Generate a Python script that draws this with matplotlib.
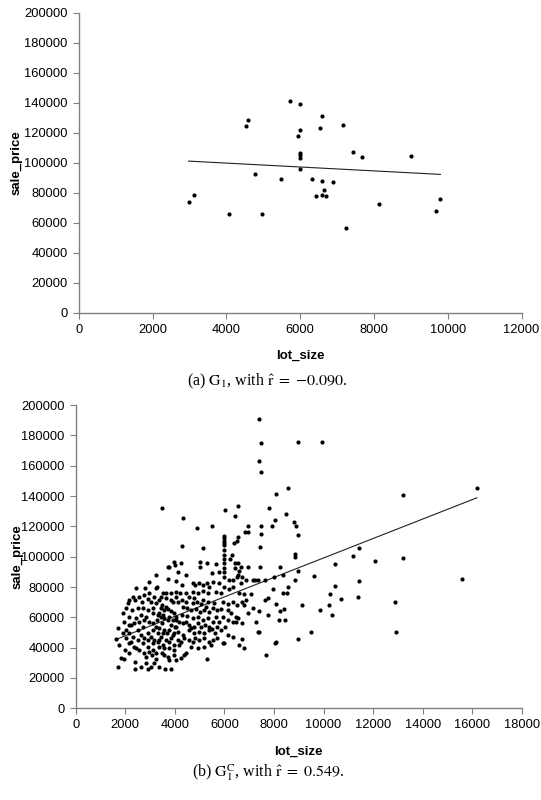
import numpy as np
import matplotlib
matplotlib.use("Agg")
import matplotlib.pyplot as plt

plt.rcParams['font.family'] = ['Liberation Sans', 'DejaVu Sans']
plt.rcParams['mathtext.fontset'] = 'stix'

# (a) G1 : lot_size vs sale_price
g1_lot = [5730, 5990, 6590, 4570, 4540, 7150, 6530, 5990, 5950, 7430,
          7670, 9000, 5990, 5990, 5990, 5990, 4780, 5490, 6330, 6590,
          6880, 6650, 6440, 6590, 6690, 3130, 2970, 8140, 9800, 9670,
          4080, 4970, 7250]
g1_price = [141100, 139300, 131100, 128300, 124700, 125100, 123100, 121800, 118000, 106900,
            104000, 104500, 106300, 104900, 102900, 95800, 92500, 89300, 89300, 88000,
            86900, 81600, 77600, 78700, 77800, 78700, 73600, 72300, 76000, 67800,
            65600, 65600, 56700]
g1_fit = (-1.298, 104990)   # slope, intercept of the drawn trend line

# (b) G1^C : lot_size vs sale_price
gc_lot = [7400, 7490, 8950, 7400, 7490, 8570, 8090, 3490, 7780, 6540,
          6010, 6410, 8490, 4310, 8040, 4880, 5500, 6970, 7470, 7940,
          8820, 8880, 6840, 6970, 7470, 5990, 6560, 8990, 5990, 6490,
          5990, 5990, 6400, 5990, 4290, 5150, 7440, 5990, 8830, 8830,
          6300, 6220, 5990, 5990, 3980, 4020, 3710, 4250, 5010, 5310,
          5680, 6410, 6540, 6670, 3780, 4110, 4470, 5990, 5990, 5990,
          6440, 6600, 6540, 6730, 6970, 7440, 8240, 8990, 3220, 5010,
          5500, 5790, 2970, 3240, 3710, 4040, 4290, 4720, 4820, 4990,
          5120, 5280, 5390, 5520, 5790, 5990, 6190, 6330, 6490, 6680,
          6890, 7140, 7220, 7340, 7650, 8010, 8350, 8560, 8830, 2430,
          2810, 3280, 3530, 3640, 3840, 4040, 4210, 4450, 4720, 4920,
          5120, 5320, 5660, 5860, 5990, 6170, 6330, 6570, 6800, 7070,
          7970, 7740, 7650, 8350, 8510, 2100, 2400, 2670, 2900, 3040,
          3240, 3370, 3480, 3640, 3910, 4110, 4290, 4450, 4720, 4880,
          5050, 5320, 5590, 5930, 6130, 6330, 6490, 6710, 6800, 6880,
          7140, 7400, 8080, 8410, 8240, 1890, 2160, 2430, 2630, 2830,
          3100, 3300, 3440, 3570, 3780, 3910, 4040, 4290, 4510, 4720,
          4920, 5120, 5320, 5520, 5660, 5930, 6130, 6330, 6460, 6530,
          6460, 6970, 6730, 7270, 7740, 8210, 8430, 1690, 2030, 2230,
          2500, 2700, 2900, 3100, 3370, 3530, 3780, 3910, 4110, 4310,
          4580, 4780, 4990, 5190, 5390, 5630, 5860, 6030, 6130, 6330,
          6730, 7340, 7400, 8080, 8050, 8990, 1640, 1760, 2000, 2230,
          2430, 2700, 2900, 3100, 3300, 3530, 3750, 3980, 4180, 4450,
          4650, 4920, 5190, 5460, 5930, 5990, 6600, 6800, 7690, 1830,
          1960, 2400, 2830, 3080, 3240, 3480, 3710, 3980, 4380, 5280,
          1690, 2400, 2900, 3040, 3370, 3610, 3840, 3170, 2830, 3440,
          3570, 3710, 3840, 3980, 4040, 4020, 3980, 3840, 3640, 3440,
          3300, 3240, 3260, 3350, 3530, 3710, 3840, 3570, 3480, 3670,
          3370, 3170, 3040, 2900, 2770, 2630, 2500, 2160, 2300, 2030,
          1890, 3100, 3370, 3570, 3780, 3980, 4110, 4250, 4380, 4560,
          4720, 4820, 4990, 5190, 5360, 5550, 5720, 4040, 4180, 4310,
          4450, 4560, 4650, 4780, 4920, 5050, 5230, 5360, 5500, 5720,
          5790, 4310, 4510, 4650, 4850, 5010, 5190, 5360, 5520, 5720,
          5870, 6130, 6260, 5120, 5250, 4580, 4780, 4040, 3840, 3640,
          3440, 3170, 2970, 2770, 2570, 2300, 2160, 2030, 2270, 2500,
          2700, 2900, 3100, 1960, 2140, 2360, 2570, 2770, 2970, 3130,
          2160, 2360, 2570, 2770, 2970, 3240, 3570, 3780, 4040, 4250,
          2630, 2160,
          9940, 16190, 13190, 11440, 11170, 13200, 12080, 10480, 9610, 15590,
          11450, 10480, 10250, 10690, 11400, 9150, 10230, 9850, 10350, 12890,
          9490, 12930]
gc_price = [190600, 174900, 175400, 163300, 155600, 145500, 141500, 132300, 132300, 133400,
            130500, 126800, 128300, 125500, 124200, 118900, 120400, 120400, 120200, 120200,
            122900, 120400, 116300, 116000, 115200, 113800, 113200, 114500, 112300, 110500,
            110500, 108800, 108800, 107500, 107000, 105500, 106600, 104400, 101500, 100000,
            101100, 98200, 101100, 98200, 96700, 94500, 93400, 95600, 96300, 95600,
            95200, 95600, 95600, 93400, 93400, 90100, 87900, 95600, 92700, 90100,
            92700, 90800, 87900, 86800, 93400, 93400, 93400, 90500, 87900, 93400,
            89000, 89700, 83500, 79100, 85300, 84200, 81300, 82900, 81300, 82900,
            81300, 82900, 80200, 83500, 82900, 86800, 84600, 84600, 86800, 82900,
            84600, 84600, 84600, 84600, 84600, 86800, 87900, 80200, 84600, 79100,
            79100, 80200, 75800, 75800, 75800, 76900, 75800, 75800, 76900, 75800,
            77600, 75800, 76900, 76300, 80200, 78700, 79800, 75800, 75400, 75400,
            78700, 72500, 71400, 75800, 75800, 69200, 71400, 70300, 71900, 70300,
            69200, 71400, 68100, 67000, 70300, 70300, 71400, 70300, 69200, 70300,
            68800, 70300, 69200, 70300, 68800, 70300, 68100, 70300, 68100, 71400,
            65900, 64400, 68800, 65500, 64200, 62600, 60400, 59300, 61500, 60400,
            62600, 61500, 60400, 59300, 60400, 58200, 60400, 61500, 60900, 59300,
            60400, 58200, 59300, 57100, 60400, 60400, 58200, 57100, 60400, 59300,
            57100, 62600, 56000, 57100, 61500, 58200, 58200, 52700, 51600, 54900,
            51600, 53800, 49400, 51600, 52700, 49400, 51600, 48300, 50500, 48300,
            51600, 49400, 50500, 49400, 51600, 49400, 51600, 53800, 48300, 47200,
            45500, 50500, 50500, 43900, 42800, 45500, 45500, 41700, 38500, 43900,
            39500, 42800, 40600, 38500, 43900, 41700, 39500, 38500, 41700, 36300,
            40600, 39500, 40600, 41700, 42800, 42800, 41700, 39500, 35200, 33000,
            32300, 30800, 34100, 35200, 32300, 36300, 34100, 35200, 35200, 32500,
            27500, 25700, 25700, 27500, 27500, 25700, 25700, 29700, 29700, 65900,
            64800, 65300, 64400, 62600, 58200, 53800, 49400, 46100, 45000, 46800,
            49400, 53800, 58200, 62600, 61500, 58200, 54900, 51600, 56000, 49400,
            45000, 45000, 47200, 45000, 46100, 48300, 45000, 49400, 47200, 46100,
            49400, 42800, 40600, 39500, 43900, 41700, 45000, 43900, 46100, 45000,
            43900, 46100, 45000, 46100, 43900, 45000, 46100, 53800, 57100, 56000,
            57100, 54900, 52700, 53800, 56000, 53800, 54900, 53800, 52100, 53800,
            57100, 67000, 65900, 64800, 65300, 63700, 64800, 63700, 65900, 64800,
            65300, 64800, 62600, 71400, 67000, 73600, 72500, 73600, 71400, 72500,
            73600, 73600, 75800, 74700, 73600, 73600, 71400, 65900, 64800, 65900,
            65900, 64800, 65900, 57100, 54900, 56000, 57100, 58200, 57100, 56000,
            42800, 40600, 38500, 36300, 37400, 36300, 35200, 31900, 31900, 33000,
            27500, 36300,
            175400, 145500, 140500, 105500, 100400, 99300, 97300, 95000, 87400, 85300,
            84100, 80500, 75400, 72300, 73400, 68300, 68300, 64800, 61700, 70300,
            50300, 50300]
gc_fit = (6.414, 35000)


def style_axes(ax, xmax):
    for side in ['top', 'right']:
        ax.spines[side].set_visible(False)
    for side in ['left', 'bottom']:
        ax.spines[side].set_color('#808080')
        ax.spines[side].set_linewidth(1.0)
    ax.tick_params(direction='out', length=4, width=0.8, color='#808080',
                   labelsize=9.3, pad=4)
    ax.set_xlim(0, xmax)
    ax.set_ylim(0, 200000)
    ax.set_xticks(np.arange(0, xmax + 1, 2000))
    ax.set_yticks(np.arange(0, 200001, 20000))
    ax.set_xlabel('lot_size', fontsize=9.5, fontweight='bold')
    ax.set_ylabel('sale_price', fontsize=9.5, fontweight='bold')


def draw(ax, lot, price, fit, xmax):
    lot = np.array(lot)
    price = np.array(price)
    ax.scatter(lot, price, s=9, color='black', linewidths=0, zorder=3)
    xs = np.array([lot.min(), lot.max()])
    ax.plot(xs, fit[0] * xs + fit[1], color='#222222', linewidth=0.8, zorder=2)
    style_axes(ax, xmax)


fig = plt.figure(figsize=(5.41, 8.0), dpi=100)

ax1 = fig.add_axes([0.146, 0.609, 0.818, 0.375])
draw(ax1, g1_lot, g1_price, g1_fit, 12000)
ax1.yaxis.set_label_coords(-0.127, 0.5)
ax1.xaxis.set_label_coords(0.5, -0.122)

ax2 = fig.add_axes([0.140, 0.1146, 0.8244, 0.3791])
draw(ax2, gc_lot, gc_price, gc_fit, 18000)
ax2.yaxis.set_label_coords(-0.118, 0.5)
ax2.xaxis.set_label_coords(0.5, -0.122)

fig.text(0.495, 0.523, r'(a) $\mathrm{G}_1$, with $\hat{\mathrm{r}}\ =\ {-}0.090$.',
         ha='center', va='center', fontsize=11.5, family='Liberation Serif')
fig.text(0.495, 0.034, r'(b) $\mathrm{G}_1^{\mathrm{C}}$, with $\hat{\mathrm{r}}\ =\ 0.549$.',
         ha='center', va='center', fontsize=11.5, family='Liberation Serif')

fig.savefig('out.png', dpi=100)
